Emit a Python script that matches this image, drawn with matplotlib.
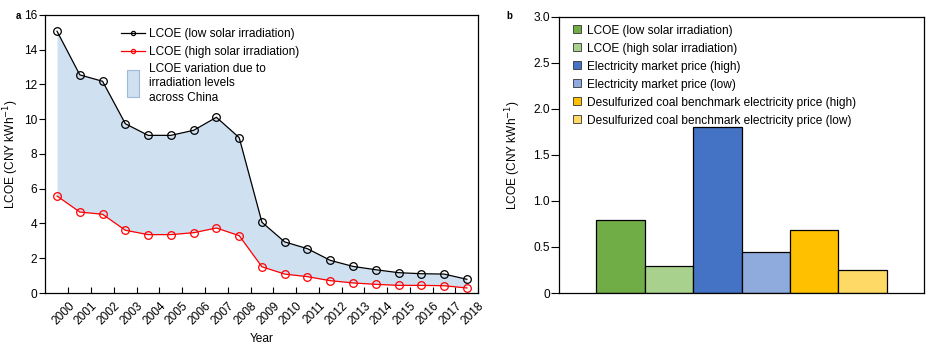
import numpy as np
import matplotlib
matplotlib.use("Agg")
import matplotlib.pyplot as plt
import matplotlib.patches as mpatches
from matplotlib.legend_handler import HandlerPatch

plt.rcParams['font.family'] = ['Liberation Sans', 'DejaVu Sans']
plt.rcParams['font.size'] = 8.6

# panel a data
years = [str(y) for y in range(2000, 2019)]
lcoe_low = [15.06, 12.55, 12.18, 9.74, 9.07, 9.07, 9.36, 10.11, 8.94, 4.07,
            2.94, 2.55, 1.88, 1.53, 1.34, 1.17, 1.11, 1.09, 0.79]
lcoe_high = [5.58, 4.66, 4.53, 3.61, 3.36, 3.36, 3.47, 3.74, 3.30, 1.51,
             1.09, 0.94, 0.71, 0.58, 0.50, 0.44, 0.44, 0.42, 0.29]

# panel b data
bar_labels = ['LCOE (low solar irradiation)',
              'LCOE (high solar irradiation)',
              'Electricity market price (high)',
              'Electricity market price (low)',
              'Desulfurized coal benchmark electricity price (high)',
              'Desulfurized coal benchmark electricity price (low)']
bar_values = [0.79, 0.29, 1.80, 0.45, 0.68, 0.25]
bar_colors = ['#70AD47', '#A9D18E', '#4472C4', '#8FAADC', '#FFC000', '#FFD966']

fig = plt.figure(figsize=(9.47, 3.55), dpi=100)
ax1 = fig.add_axes([0.0475, 0.1746, 0.4575, 0.7834])
ax2 = fig.add_axes([0.590, 0.1746, 0.386, 0.7784])

x = np.arange(len(years))
fill = ax1.fill_between(x, lcoe_high, lcoe_low, color='#CFE0F1', lw=0,
                        label='LCOE variation due to\nirradiation levels\nacross China')
l1, = ax1.plot(x, lcoe_low, color='black', lw=0.9, marker='o', ms=5.5,
               mfc='none', mew=0.9, label='LCOE (low solar irradiation)')
l2, = ax1.plot(x, lcoe_high, color='red', lw=0.9, marker='o', ms=5.5,
               mfc='none', mew=0.9, label='LCOE (high solar irradiation)')
ax1.set_xlim(-0.53, 18.5)
ax1.set_ylim(0, 16)
ax1.set_yticks(np.arange(0, 17, 2))
ax1.set_xticks(x + 0.5)
ax1.set_xticklabels(years, rotation=45, ha='right', rotation_mode='anchor')
ax1.tick_params(axis='x', direction='in', length=4.5, pad=5)
ax1.tick_params(axis='y', direction='out', length=4.5, pad=1)
ax1.set_xlabel('Year', labelpad=4)
ax1.set_ylabel('LCOE (CNY kWh$^{-1}$)')
ax1.yaxis.set_label_coords(-0.055, 0.5)


def tall_patch(legend, orig_handle, xdescent, ydescent, width, height, fontsize):
    return mpatches.Rectangle((width * 0.25 - xdescent, -ydescent - height * 1.1),
                              width * 0.5, height * 3.3)


leg_patch = mpatches.Patch(facecolor='#CFE0F1', edgecolor='#9DB9D8', lw=0.8,
                           label=fill.get_label())
leg1 = ax1.legend(handles=[l1, l2, leg_patch], loc='upper left',
                  bbox_to_anchor=(0.15, 0.99), frameon=False, fontsize=8.6,
                  handlelength=2.0, labelspacing=0.45, handletextpad=0.35,
                  handler_map={mpatches.Patch: HandlerPatch(patch_func=tall_patch)})
for t in leg1.get_texts():
    t.set_linespacing(1.25)
for h in leg1.legend_handles[:2]:
    h.set_markersize(3)

xb = np.arange(len(bar_values))
bars = ax2.bar(xb, bar_values, width=1.0, color=bar_colors, edgecolor='black',
               lw=0.9)
ax2.set_xlim(-1.27, 6.27)
ax2.set_ylim(0, 3.0)
ax2.set_yticks(np.arange(0, 3.01, 0.5))
ax2.set_yticklabels(['0', '0.5', '1.0', '1.5', '2.0', '2.5', '3.0'])
ax2.set_xticks([])
ax2.tick_params(axis='y', direction='out', length=5.5, pad=1)
ax2.set_ylabel('LCOE (CNY kWh$^{-1}$)')
ax2.yaxis.set_label_coords(-0.099, 0.5)
handles = [mpatches.Patch(facecolor=c, edgecolor='#333333', lw=0.6, label=l)
           for c, l in zip(bar_colors, bar_labels)]
ax2.legend(handles=handles, loc='upper left', bbox_to_anchor=(0.01, 1.01),
           frameon=False, fontsize=8.6, handlelength=0.65, handleheight=0.65,
           labelspacing=0.5, handletextpad=0.55)

for ax in (ax1, ax2):
    for s in ax.spines.values():
        s.set_linewidth(0.9)

fig.text(0.017, 0.955, 'a', fontsize=7, fontweight='bold', va='center')
fig.text(0.535, 0.955, 'b', fontsize=7, fontweight='bold', va='center')

fig.savefig('out.png', dpi=100)
